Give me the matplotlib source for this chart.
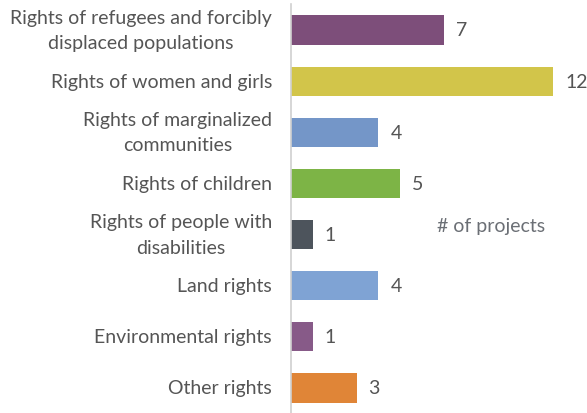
import matplotlib
matplotlib.use("Agg")
import matplotlib.pyplot as plt

categories = [
    "Rights of refugees and forcibly\ndisplaced populations",
    "Rights of women and girls",
    "Rights of marginalized\ncommunities",
    "Rights of children",
    "Rights of people with\ndisabilities",
    "Land rights",
    "Environmental rights",
    "Other rights",
]
values = [7, 12, 4, 5, 1, 4, 1, 3]
colors = ["#7D4E7A", "#D2C54A", "#7496C8", "#7DB446",
          "#4D545C", "#7FA3D4", "#875A88", "#E08537"]
legend_text = "# of projects"

plt.rcParams['font.family'] = ['Lato', 'DejaVu Sans']
txt_color = "#555555"

fig = plt.figure(figsize=(5.87, 4.14), dpi=100)
W, H = 587, 414
ax = fig.add_axes([291 / W, 0, 1 - 291 / W, 1])

px_per_unit = (553 - 291) / 12.0
ax.set_xlim(0, (W - 291) / px_per_unit)
spacing = 51.14
ax.set_ylim((414 - 31) / spacing, -31 / spacing)

ys = list(range(len(categories)))
ax.barh(ys, values, height=0.57, color=colors)

for y, v in zip(ys, values):
    ax.text(v + 12 / px_per_unit, y, str(v), va='center', ha='left',
            fontsize=14, color=txt_color)

for y, c in zip(ys, categories):
    ax.text(-19 / px_per_unit, y, c, va='center', ha='right',
            multialignment='center', fontsize=14, color=txt_color,
            linespacing=1.6)

ax.text(437 / W, 1 - 227 / H, legend_text, transform=fig.transFigure,
        va='center', ha='left', fontsize=14, color="#6b6f75")

for s in ['top', 'right', 'bottom']:
    ax.spines[s].set_visible(False)
ax.spines['left'].set_color("#d0d0d0")
ax.spines['left'].set_linewidth(1.2)
ax.spines['left'].set_bounds((414 - 31) / spacing, (5 - 31) / spacing)
ax.set_xticks([])
ax.set_yticks([])
ax.patch.set_alpha(0)

fig.savefig("out.png", dpi=100)
